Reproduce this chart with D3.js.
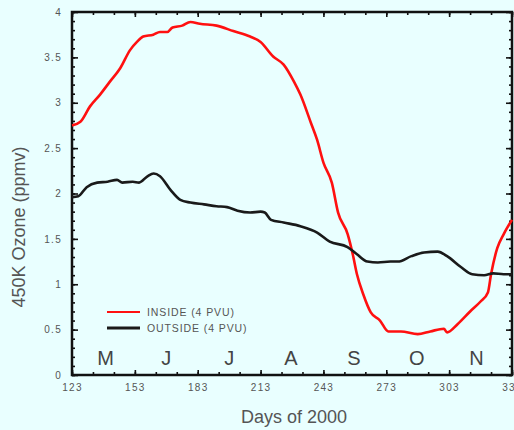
<!DOCTYPE html>
<html><head><meta charset="utf-8">
<script src="https://cdn.jsdelivr.net/npm/d3@7"></script>
<style>
html,body{margin:0;padding:0;background:#e9ffff;}
svg{display:block;font-family:"Liberation Sans",Arial,sans-serif;}
</style></head><body>
<svg id="c" width="514" height="430"></svg>
<script>
// ---- data ----
const insideDays = [123,127,131.6,136.4,141,146,150.7,154,157,161.8,165,168.5,171,175.6,179.5,184,192,200,208,213,219,224,229,232,237,240,243,247,250,254.6,257,259,262,265.6,270,274,280,288,294,300.5,302,307,313,318,321.5,323,326,329,333];
const insideVals = [2.75,2.79,2.96,3.09,3.23,3.38,3.58,3.67,3.73,3.75,3.78,3.78,3.83,3.85,3.89,3.87,3.85,3.79,3.73,3.67,3.51,3.42,3.23,3.09,2.78,2.59,2.34,2.12,1.79,1.55,1.33,1.11,0.89,0.69,0.60,0.48,0.48,0.45,0.48,0.51,0.47,0.56,0.70,0.81,0.91,1.11,1.40,1.55,1.71];
const outsideDays = [123,126,130,135,140,144.5,147,152,155,159,162,165,170,174.7,179.5,186,192,197,202,208,213,215,218,224,232,240,246,254.5,259,264,269,275,278.5,285,291,297.5,302,308.6,314,319.7,324,329,333];
const outsideVals = [1.96,1.97,2.07,2.12,2.13,2.15,2.12,2.13,2.12,2.19,2.22,2.19,2.04,1.93,1.90,1.88,1.86,1.85,1.81,1.79,1.80,1.79,1.71,1.68,1.64,1.57,1.47,1.41,1.33,1.25,1.24,1.25,1.25,1.31,1.35,1.36,1.31,1.19,1.11,1.10,1.12,1.11,1.11];
const xTickLabels = [123,153,183,213,243,273,303,333];
const yTickLabels = [0,0.5,1,1.5,2,2.5,3,3.5,4];
const monthLabels = ["M","J","J","A","S","O","N"];
const monthMidDays = [139,168,198,227.5,257.5,287.5,316];
const seriesNames = ["INSIDE (4 PVU)","OUTSIDE (4 PVU)"];
const seriesColors = ["#ff1010","#1a1a1a"];

// ---- layout ----
const L=72, R=512, T=12, B=375;
const svg = d3.select("#c");
const x = d3.scaleLinear().domain([123,333]).range([L,R]);
const y = d3.scaleLinear().domain([0,4]).range([B,T]);
const minorX = d3.range(123,334,10);
const minorY = d3.range(0,4.001,0.1).map(v=>+v.toFixed(1));
const fmtY = d => d3.format("~g")(d);
const textCol = "#555";

function styleAxis(g){
  g.select(".domain").remove();
  g.selectAll("line").attr("stroke","#111").attr("stroke-width",1.6);
  g.selectAll("text").attr("fill",textCol).style("font-size","10px").style("letter-spacing","1.3px");
}
// bottom
svg.append("g").attr("transform",`translate(0,${B})`)
  .call(d3.axisBottom(x).tickValues(minorX).tickSize(-3).tickFormat("")).call(styleAxis);
svg.append("g").attr("transform",`translate(0,${B})`)
  .call(d3.axisBottom(x).tickValues(xTickLabels).tickSize(-5).tickPadding(9)).call(styleAxis);
// top
svg.append("g").attr("transform",`translate(0,${T})`)
  .call(d3.axisTop(x).tickValues(minorX).tickSize(-3).tickFormat("")).call(styleAxis);
svg.append("g").attr("transform",`translate(0,${T})`)
  .call(d3.axisTop(x).tickValues(xTickLabels).tickSize(-5).tickFormat("")).call(styleAxis);
// left
svg.append("g").attr("transform",`translate(${L},0)`)
  .call(d3.axisLeft(y).tickValues(minorY).tickSize(-3).tickFormat("")).call(styleAxis);
svg.append("g").attr("transform",`translate(${L},0)`)
  .call(d3.axisLeft(y).tickValues(yTickLabels).tickSize(-6).tickPadding(10).tickFormat(fmtY)).call(styleAxis);
// right
svg.append("g").attr("transform",`translate(${R},0)`)
  .call(d3.axisRight(y).tickValues(minorY).tickSize(-3).tickFormat("")).call(styleAxis);
svg.append("g").attr("transform",`translate(${R},0)`)
  .call(d3.axisRight(y).tickValues(yTickLabels).tickSize(-6).tickFormat("")).call(styleAxis);

// frame
svg.append("rect").attr("x",L).attr("y",T).attr("width",R-L).attr("height",B-T)
  .attr("fill","none").attr("stroke","#111").attr("stroke-width",2.5);

// month letters
svg.append("g").selectAll("text").data(monthLabels).join("text")
  .attr("x",(d,i)=>x(monthMidDays[i])).attr("y",365)
  .attr("text-anchor","middle").attr("fill","#444")
  .style("font-size","20px").text(d=>d);

// lines
const line = d3.line().x(d=>x(d[0])).y(d=>y(d[1])).curve(d3.curveMonotoneX);
const seriesData = [d3.zip(insideDays,insideVals), d3.zip(outsideDays,outsideVals)];
svg.append("g").selectAll("path").data(seriesData).join("path")
  .attr("d",line).attr("fill","none")
  .attr("stroke",(d,i)=>seriesColors[i]).attr("stroke-width",2.6)
  .attr("stroke-linejoin","round");

// legend
const lg = svg.append("g");
seriesNames.forEach((n,i)=>{
  const yy = 312 + i*16;
  lg.append("line").attr("x1",107).attr("x2",140).attr("y1",yy).attr("y2",yy)
    .attr("stroke",seriesColors[i]).attr("stroke-width",i===0?2.2:3);
  lg.append("text").attr("x",147).attr("y",yy+4).attr("fill",textCol)
    .style("font-size","10.5px").style("letter-spacing","0.9px").text(n);
});

// axis titles
svg.append("text").attr("x",294).attr("y",423).attr("text-anchor","middle")
  .attr("fill",textCol).style("font-size","18px").text("Days of 2000");
svg.append("text").attr("transform","translate(25,227) rotate(-90)").attr("text-anchor","middle")
  .attr("fill",textCol).style("font-size","18px").text("450K Ozone (ppmv)");
</script>
</body></html>
